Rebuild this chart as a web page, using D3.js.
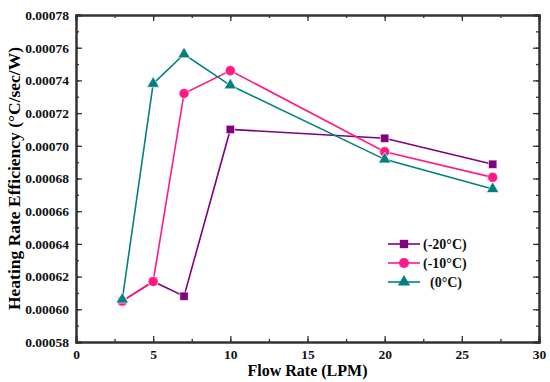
<!DOCTYPE html>
<html>
<head>
<meta charset="utf-8">
<script src="https://cdn.jsdelivr.net/npm/d3@7"></script>
<style>
  body { margin: 0; background: #fff; }
  svg text { font-family: "Liberation Serif", "Times New Roman", serif; font-weight: bold; }
</style>
</head>
<body>
<svg id="chart" width="550" height="382"></svg>
<script>
'use strict';

// Data.
const flowRates = [3, 5, 7, 10, 20, 27];
const minus20 = [0.000605, 0.000617, 0.000608, 0.000710, 0.0007046, 0.0006887];
const minus10 = [0.000605, 0.000617, 0.000732, 0.000746, 0.0006964, 0.0006807];
const zero = [0.000606, 0.000738, 0.000756, 0.000737, 0.0006917, 0.0006736];
const seriesNames = ['(-20\u00b0C)', '(-10\u00b0C)', '(0\u00b0C)'];
const xTicks = [0, 5, 10, 15, 20, 25, 30];
const yTicks = [0.00058, 0.00060, 0.00062, 0.00064, 0.00066, 0.00068, 0.00070, 0.00072, 0.00074, 0.00076, 0.00078];

const series = [
  { name: seriesNames[0], values: minus20, color: '#800080', symbol: d3.symbolSquare, size: 70 },
  { name: seriesNames[1], values: minus10, color: '#ff1a85', symbol: d3.symbolCircle, size: 80 },
  { name: seriesNames[2], values: zero, color: '#008080', symbol: d3.symbolTriangle, size: 65 }
];

const margin = { top: 15, right: 11, bottom: 40, left: 76 };
const width = 550, height = 382;
const chartWidth = width - margin.left - margin.right;
const chartHeight = height - margin.top - margin.bottom;

const svg = d3.select('#chart');
const g = svg.append('g').attr('transform', `translate(${margin.left},${margin.top})`);

const x = d3.scaleLinear().domain([0, 30]).range([0, chartWidth]);
const y = d3.scaleLinear().domain([0.00058, 0.00078]).range([chartHeight, 0]);

const axisColor = '#333';
const minorX = d3.range(0, 30.01, 2.5);
const minorY = d3.range(0.00058, 0.000781, 0.00001);

// Bottom axis with labels, ticks pointing inward.
const bottomAxis = g.append('g').attr('transform', `translate(0,${chartHeight})`)
  .call(d3.axisBottom(x).tickValues(xTicks).tickSize(-6).tickPadding(7).tickFormat(d3.format('d')));
bottomAxis.append('g').call(d3.axisBottom(x).tickValues(minorX).tickSize(-3).tickFormat(''));

const leftAxis = g.append('g')
  .call(d3.axisLeft(y).tickValues(yTicks).tickSize(-6).tickPadding(7).tickFormat(d3.format('.5f')));
leftAxis.append('g').call(d3.axisLeft(y).tickValues(minorY).tickSize(-3).tickFormat(''));

// Mirror ticks on top and right, no labels.
const topAxis = g.append('g')
  .call(d3.axisTop(x).tickValues(xTicks).tickSize(-6).tickFormat(''));
topAxis.append('g').call(d3.axisTop(x).tickValues(minorX).tickSize(-3).tickFormat(''));

const rightAxis = g.append('g').attr('transform', `translate(${chartWidth},0)`)
  .call(d3.axisRight(y).tickValues(yTicks).tickSize(-6).tickFormat(''));
rightAxis.append('g').call(d3.axisRight(y).tickValues(minorY).tickSize(-3).tickFormat(''));

g.selectAll('.domain').attr('stroke', axisColor).attr('stroke-width', 2);
g.selectAll('.tick line').attr('stroke', axisColor).attr('stroke-width', 1.3);
g.selectAll('.tick text').attr('fill', '#111').style('font-size', '13.5px');

// Axis titles
svg.append('text')
  .attr('x', margin.left + chartWidth / 2)
  .attr('y', 376)
  .attr('text-anchor', 'middle')
  .style('font-size', '16px')
  .text('Flow Rate (LPM)');

svg.append('text')
  .attr('transform', `translate(20,${margin.top + chartHeight / 2}) rotate(-90)`)
  .attr('text-anchor', 'middle')
  .style('font-size', '17.5px')
  .text('Heating Rate Efficiency (\u00b0C/sec/W)');

// Lines and markers
const line = d3.line()
  .x((d, i) => x(flowRates[i]))
  .y(d => y(d));

series.forEach(s => {
  g.append('path')
    .datum(s.values)
    .attr('fill', 'none')
    .attr('stroke', s.color)
    .attr('stroke-width', 1.6)
    .attr('d', line);
});

series.forEach(s => {
  g.selectAll(null)
    .data(s.values)
    .enter().append('path')
    .attr('transform', (d, i) => `translate(${x(flowRates[i])},${y(d)})`)
    .attr('d', d3.symbol().type(s.symbol).size(s.size))
    .attr('fill', s.color)
    .attr('stroke', '#fff')
    .attr('stroke-width', 0.6);
});

// Legend
const legend = svg.append('g').attr('transform', 'translate(388,244)');
series.forEach((s, i) => {
  const row = legend.append('g').attr('transform', `translate(0,${i * 19})`);
  row.append('line').attr('x1', 0).attr('x2', 32).attr('y1', 0).attr('y2', 0)
    .attr('stroke', s.color).attr('stroke-width', 1.6);
  row.append('path').attr('transform', 'translate(16,0)')
    .attr('d', d3.symbol().type(s.symbol).size(s.size))
    .attr('fill', s.color);
  row.append('text')
    .attr('x', i === 2 ? 42 : 35)
    .attr('y', 5)
    .style('font-size', '14px')
    .attr('fill', '#111')
    .text(s.name);
});
</script>
</body>
</html>
